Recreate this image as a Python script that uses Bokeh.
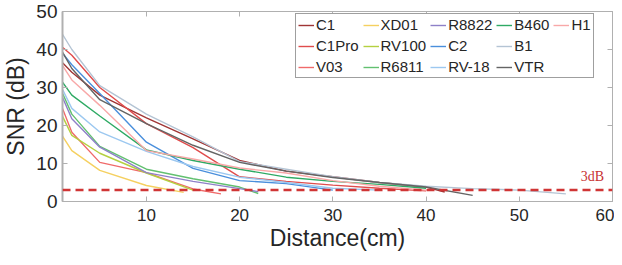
from bokeh.plotting import figure
from bokeh.models import (Range1d, FixedTicker, LinearAxis, Span, Label, Legend, LegendItem,
                          CustomJSTickFormatter)
from bokeh.embed import file_html
from bokeh.resources import INLINE

# ---------------- data ----------------
series_names = ["C1", "C1Pro", "V03", "XD01", "RV100", "R6811", "R8822",
                "C2", "RV-18", "B460", "B1", "VTR", "H1"]

x_C1 = [1, 2, 5, 10, 15, 20, 25, 30, 35, 40, 42]
y_C1 = [36.5, 34.0, 28.0, 22.0, 16.5, 10.8, 8.0, 6.5, 5.0, 3.8, 2.5]

x_C1Pro = [1, 2, 5, 10, 15, 20, 25, 30, 35, 40]
y_C1Pro = [40.6, 38.5, 30.0, 20.5, 14.2, 6.5, 5.3, 4.3, 3.5, 2.8]

x_V03 = [1, 2, 5, 10, 15, 18]
y_V03 = [24.5, 18.2, 10.3, 7.6, 3.3, 2.0]

x_XD01 = [1, 2, 5, 10, 14]
y_XD01 = [17.2, 13.4, 8.2, 4.2, 2.4]

x_RV100 = [1, 2, 5, 10, 15]
y_RV100 = [22.4, 17.4, 12.7, 7.5, 3.0]

x_R6811 = [1, 2, 5, 10, 15, 20, 22]
y_R6811 = [28.5, 23.0, 14.5, 8.5, 6.0, 3.8, 2.1]

x_R8822 = [1, 2, 5, 10, 15, 20, 22]
y_R8822 = [27.4, 21.8, 14.3, 7.6, 5.3, 3.4, 2.6]

x_C2 = [1, 2, 5, 10, 15, 20, 25, 30]
y_C2 = [39.0, 36.0, 28.4, 15.6, 8.7, 5.5, 4.7, 3.0]

x_RV18 = [1, 2, 5, 10, 15, 20, 25, 30, 35]
y_RV18 = [29.5, 24.5, 18.3, 13.2, 9.2, 6.4, 5.0, 3.5, 3.0]

x_B460 = [1, 2, 5, 10, 15, 20, 25, 30, 35, 40]
y_B460 = [31.4, 28.0, 22.5, 13.6, 10.8, 8.5, 6.4, 5.3, 4.5, 3.5]

x_B1 = [1, 2, 5, 10, 15, 20, 25, 30, 35, 40, 45, 50, 55]
y_B1 = [44.0, 40.0, 30.5, 23.0, 17.0, 10.5, 8.5, 6.5, 5.0, 4.0, 3.4, 3.0, 2.0]

x_VTR = [1, 2, 5, 10, 15, 20, 25, 30, 35, 40, 45]
y_VTR = [39.3, 35.0, 26.8, 20.5, 14.8, 10.3, 8.0, 6.3, 5.0, 3.8, 1.6]

x_H1 = [1, 2, 5, 10, 15, 20, 25, 30, 35, 40]
y_H1 = [35.8, 32.0, 25.3, 13.4, 11.2, 8.8, 7.5, 5.5, 4.0, 3.0]

threshold_db = 3
x_ticks = [10, 20, 30, 40, 50, 60]
y_ticks = [0, 10, 20, 30, 40, 50]

series_x = [x_C1, x_C1Pro, x_V03, x_XD01, x_RV100, x_R6811, x_R8822,
            x_C2, x_RV18, x_B460, x_B1, x_VTR, x_H1]
series_y = [y_C1, y_C1Pro, y_V03, y_XD01, y_RV100, y_R6811, y_R8822,
            y_C2, y_RV18, y_B460, y_B1, y_VTR, y_H1]
colors = ["#a03535", "#e04c4c", "#f06a6a", "#f5d060", "#b5d040", "#62c070",
          "#8e80c8", "#4a8fdc", "#9cc8f0", "#2eaa64", "#b4c4d4", "#646464", "#f8a8a8"]

# ---------------- figure ----------------
FONT = "Liberation Sans"
TXT = "#262626"
AX = "#b0b0b0"

p = figure(width=614, height=257, output_backend="svg", toolbar_location=None,
           x_range=Range1d(1, 60), y_range=Range1d(0, 50),
           min_border_left=58, min_border_right=2, min_border_top=11, min_border_bottom=56)
p.grid.visible = False
p.outline_line_color = AX
p.background_fill_color = "white"
p.border_fill_color = "white"

for ax in [p.xaxis[0], p.yaxis[0]]:
    ax.axis_line_color = AX
    ax.major_tick_line_color = AX
    ax.major_tick_in = 5
    ax.major_tick_out = 0
    ax.minor_tick_line_color = None
    ax.major_label_text_color = TXT
    ax.major_label_text_font = FONT
    ax.axis_label_text_font = FONT
    ax.axis_label_text_color = TXT
    ax.axis_label_text_font_style = "normal"
    ax.axis_label_text_font_size = "23px"

p.xaxis.ticker = FixedTicker(ticks=x_ticks)
p.yaxis.ticker = FixedTicker(ticks=y_ticks)
p.xaxis.major_label_text_font_size = "17px"
p.yaxis.major_label_text_font_size = "19px"
p.xaxis.axis_label = "Distance(cm)"
p.yaxis.axis_label = "SNR (dB)"
p.xaxis.major_label_standoff = 7
p.xaxis.axis_label_standoff = 1
p.yaxis.major_label_standoff = 5
p.yaxis.axis_label_standoff = 4
p.yaxis.axis_line_width = 2

# top and right axes (ticks only)
blank = CustomJSTickFormatter(code="return ''")
top = LinearAxis(ticker=FixedTicker(ticks=x_ticks), formatter=blank,
                 major_label_standoff=0, axis_line_color=AX, major_tick_line_color=AX,
                 major_tick_in=5, major_tick_out=0, minor_tick_line_color=None)
right = LinearAxis(ticker=FixedTicker(ticks=y_ticks), formatter=blank,
                   major_label_standoff=0, axis_line_color=AX, major_tick_line_color=AX,
                   major_tick_in=5, major_tick_out=0, minor_tick_line_color=None)
p.add_layout(top, "above")
p.add_layout(right, "right")

items = []
for name, xs, ys, c in zip(series_names, series_x, series_y, colors):
    r = p.line(xs, ys, line_color=c, line_width=1.4)
    items.append(LegendItem(label=name, renderers=[r]))

p.add_layout(Span(location=threshold_db, dimension="width", line_color="#d03535",
                  line_width=2.5, line_dash="8 5"))
p.add_layout(Label(x=56.6, y=threshold_db + 1.7, text="3dB", text_color="#c83232",
                   text_font="Liberation Serif", text_font_size="14px"))

legend = Legend(items=items, orientation="vertical", nrows=3,
                location=(233, 123), label_text_font=FONT, label_text_font_size="15px",
                label_text_color=TXT, glyph_width=16, glyph_height=16, label_height=16,
                label_standoff=2, spacing=4, padding=2, margin=0,
                border_line_color="#404040", border_line_width=1,
                background_fill_alpha=1.0)
p.add_layout(legend, "center")

open("out.html", "w").write(file_html(p, INLINE))
